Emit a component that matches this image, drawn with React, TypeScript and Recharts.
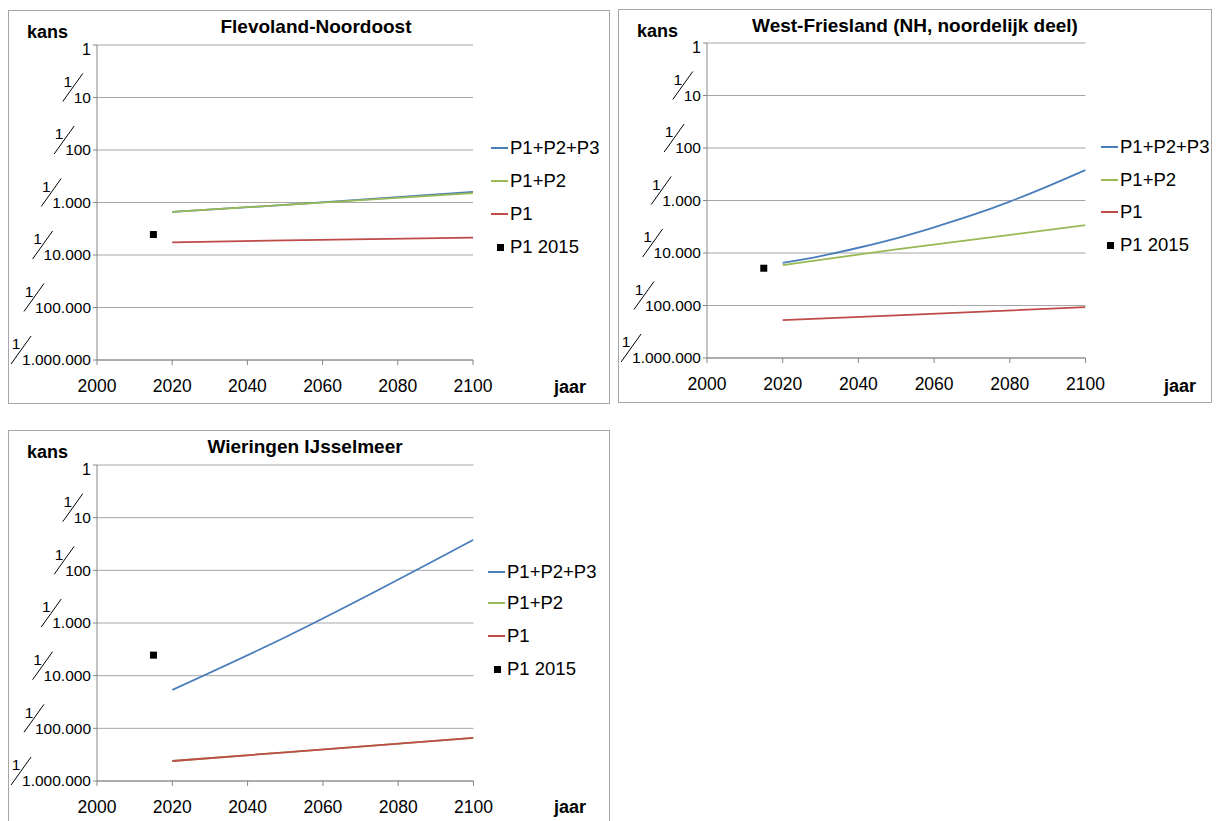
import { ComposedChart, Line, Scatter, XAxis, YAxis, CartesianGrid } from "recharts";

// y values are log10 of the probability (kans), -6 = 1/1.000.000, 0 = 1
const yTicks = [-6, -5, -4, -3, -2, -1, 0];
const yTickLabels = ["1.000.000", "100.000", "10.000", "1.000", "100", "10", "1"];
const xTicks = [2000, 2020, 2040, 2060, 2080, 2100];

const yearsCoarse = [2020, 2050, 2100];
const yearsFine = [2020, 2030, 2040, 2050, 2060, 2070, 2080, 2090, 2100];

const flevoP123 = [-3.18, -3.045, -2.8];
const flevoP12 = [-3.18, -3.045, -2.82];
const flevoP1 = [-3.76, -3.72, -3.67];
const flevoP1_2015 = -3.61;

const westP123 = [-4.19, -4.06, -3.9, -3.72, -3.51, -3.28, -3.02, -2.73, -2.42];
const westP12 = [-4.23, -3.93, -3.47];
const westP1 = [-5.28, -5.19, -5.03];
const westP1_2015 = -4.29;

const wierP123 = [-4.27, -3.27, -1.42];
const wierP12 = [-5.62, -5.455, -5.18];
const wierP1 = [-5.62, -5.455, -5.18];
const wierP1_2015 = -3.61;

const seriesNames = ["P1+P2+P3", "P1+P2", "P1", "P1 2015"];
const colors = ["#4a7ebb", "#98b954", "#be4b48", "#000000"];

const FONT = "'Liberation Sans', Arial, sans-serif";

const toRows = (years: number[], vals: number[]) => years.map((year, i) => ({ year, v: vals[i] }));

function textWidth(s: string, fs: number) {
  let w = 0;
  for (const c of s) w += c === "." ? 0.278 : 0.556;
  return w * fs;
}

function FracTick(props: any) {
  const { x, y, payload } = props;
  const label = yTickLabels[yTicks.indexOf(payload.value)];
  if (label === "1") {
    return (
      <text x={x} y={y + 4} dy="0.35em" textAnchor="end" fontSize={16} fontFamily={FONT} fill="#000">
        1
      </text>
    );
  }
  const l = x - textWidth(label, 15.5);
  return (
    <g>
      <text x={x} y={y} dy="0.35em" textAnchor="end" fontSize={15.5} fontFamily={FONT} fill="#000">
        {label}
      </text>
      <line x1={l - 11} y1={y + 4} x2={l + 9} y2={y - 24} stroke="#000" strokeWidth={1} />
      <text x={l - 6} y={y - 16} dy="0.35em" textAnchor="middle" fontSize={15.5} fontFamily={FONT} fill="#000">
        1
      </text>
    </g>
  );
}

const square = (p: any) => <rect x={p.cx - 3.5} y={p.cy - 3.5} width={7} height={7} fill="#000" />;

type PanelProps = {
  left: number;
  top: number;
  width: number;
  title: string;
  titleX: number;
  margin: { top: number; right: number; bottom: number; left: number };
  legendX: number;
  legendY: number[];
  p123: { year: number; v: number }[];
  p12: { year: number; v: number }[];
  p1: { year: number; v: number }[];
  p2015: { year: number; v: number }[];
};

function Panel(pp: PanelProps) {
  const H = 392;
  const abs = (l: number, cy: number, extra: any = {}) => ({
    position: "absolute" as const,
    left: l,
    top: cy - 12,
    height: 24,
    lineHeight: "24px",
    whiteSpace: "nowrap" as const,
    fontFamily: FONT,
    ...extra,
  });
  return (
    <div
      style={{
        position: "absolute",
        left: pp.left,
        top: pp.top,
        width: pp.width,
        height: H,
        border: "1px solid #a6a6a6",
        background: "#fff",
      }}
    >
      <ComposedChart width={pp.width} height={H} margin={pp.margin}>
        <CartesianGrid vertical={false} stroke="#a6a6a6" />
        <XAxis
          type="number"
          dataKey="year"
          domain={[2000, 2100]}
          ticks={xTicks}
          allowDataOverflow
          height={30}
          stroke="#868686"
          tickSize={5}
          tickMargin={15}
          tick={{ fill: "#000", fontSize: 17.5, fontFamily: FONT }}
        />
        <YAxis
          type="number"
          domain={[-6, 0]}
          ticks={yTicks}
          width={80}
          stroke="#868686"
          tickSize={4}
          tickMargin={2}
          tick={<FracTick />}
        />
        <Line data={pp.p123} dataKey="v" stroke={colors[0]} strokeWidth={1.8} dot={false} type="monotone" isAnimationActive={false} />
        <Line data={pp.p12} dataKey="v" stroke={colors[1]} strokeWidth={1.8} dot={false} type="linear" isAnimationActive={false} />
        <Line data={pp.p1} dataKey="v" stroke={colors[2]} strokeWidth={1.8} dot={false} type="linear" isAnimationActive={false} />
        <Scatter data={pp.p2015} dataKey="v" fill="#000" shape={square} isAnimationActive={false} />
      </ComposedChart>
      <div style={abs(0, 16, { width: pp.titleX * 2, textAlign: "center", fontWeight: "bold", fontSize: 19 })}>{pp.title}</div>
      <div style={abs(18, 21, { fontWeight: "bold", fontSize: 18 })}>kans</div>
      <div style={abs(545, 376, { fontWeight: "bold", fontSize: 18 })}>jaar</div>
      {seriesNames.map((name, i) => (
        <div key={name}>
          {i < 3 ? (
            <div
              style={{
                position: "absolute",
                left: pp.legendX,
                top: pp.legendY[i] - 1,
                width: 17,
                height: 2,
                background: colors[i],
              }}
            />
          ) : (
            <div
              style={{
                position: "absolute",
                left: pp.legendX + 6,
                top: pp.legendY[i] - 3.5,
                width: 7,
                height: 7,
                background: "#000",
              }}
            />
          )}
          <div style={abs(pp.legendX + 19, pp.legendY[i], { fontSize: 18.5 })}>{name}</div>
        </div>
      ))}
    </div>
  );
}

export default function App() {
  return (
    <div style={{ position: "absolute", left: 0, top: 0, width: 1219, height: 821, overflow: "hidden", background: "#fff" }}>
      <Panel
        left={8}
        top={10}
        width={600}
        title="Flevoland-Noordoost"
        titleX={307}
        margin={{ top: 34, right: 136, bottom: 13, left: 8 }}
        legendX={482}
        legendY={[137, 170, 203, 236]}
        p123={toRows(yearsCoarse, flevoP123)}
        p12={toRows(yearsCoarse, flevoP12)}
        p1={toRows(yearsCoarse, flevoP1)}
        p2015={[{ year: 2015, v: flevoP1_2015 }]}
      />
      <Panel
        left={618}
        top={9}
        width={592}
        title="West-Friesland (NH, noordelijk deel)"
        titleX={296}
        margin={{ top: 33, right: 125.5, bottom: 14, left: 8 }}
        legendX={482}
        legendY={[137, 170, 202, 235]}
        p123={toRows(yearsFine, westP123)}
        p12={toRows(yearsCoarse, westP12)}
        p1={toRows(yearsCoarse, westP1)}
        p2015={[{ year: 2015, v: westP1_2015 }]}
      />
      <Panel
        left={8}
        top={430}
        width={600}
        title="Wieringen IJsselmeer"
        titleX={296}
        margin={{ top: 34, right: 135.5, bottom: 12, left: 8 }}
        legendX={479}
        legendY={[141, 172, 205, 238]}
        p123={toRows(yearsCoarse, wierP123)}
        p12={toRows(yearsCoarse, wierP12)}
        p1={toRows(yearsCoarse, wierP1)}
        p2015={[{ year: 2015, v: wierP1_2015 }]}
      />
    </div>
  );
}
